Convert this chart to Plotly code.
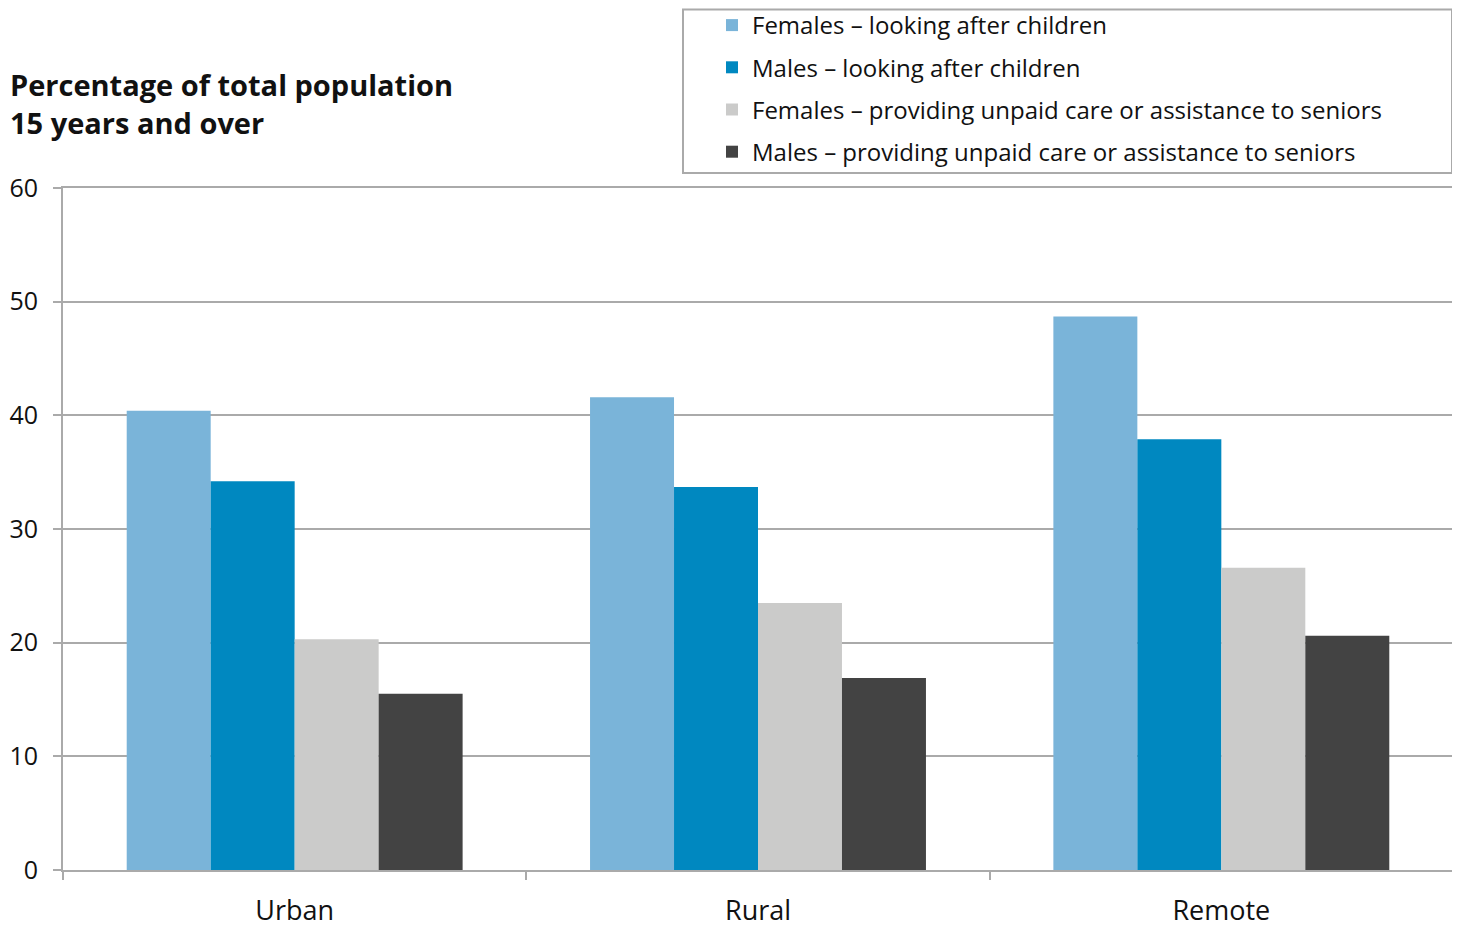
import plotly.graph_objects as go

categories = ["Urban", "Rural", "Remote"]
series_names = [
    "Females – looking after children",
    "Males – looking after children",
    "Females – providing unpaid care or assistance to seniors",
    "Males – providing unpaid care or assistance to seniors",
]
f_children = [40.4, 41.6, 48.7]
m_children = [34.2, 33.7, 37.9]
f_seniors = [20.3, 23.5, 26.6]
m_seniors = [15.5, 16.9, 20.6]
y_ticks = [0, 10, 20, 30, 40, 50, 60]

colors = ["#7ab4d9", "#0088c0", "#cbcbca", "#434343"]
values = [f_children, m_children, f_seniors, m_seniors]

FONT = "Open Sans"
OFF = 8  # page body margin
W, H = 1460 - OFF, 930 - OFF
# target plot area in page pixels
PL, PR, PT, PB = 63, 1453, 188, 870
L, T = PL - OFF, PT - OFF
R, B = W - (PR - OFF), H - (PB - OFF)
PW, PH = PR - PL, PB - PT


def px_x(p):
    return (p - PL) / PW


def px_y(p):
    return 1 + (PT - p) / PH


fig = go.Figure()
for i, (name, vals) in enumerate(zip(series_names, values)):
    fig.add_trace(go.Bar(
        x=categories, y=vals, name=name,
        marker=dict(color=colors[i], line=dict(width=0)),
        legendgroup=f"g{i}",
    ))

fig.update_layout(
    width=W, height=H,
    margin=dict(l=L, r=R, t=T, b=B, autoexpand=False),
    paper_bgcolor="white", plot_bgcolor="white",
    barmode="group", bargap=0.275, bargroupgap=0,
    font=dict(family=FONT, color="#111111", size=24),
    showlegend=True,
    legend=dict(
        x=px_x(712), xanchor="left", xref="paper",
        y=px_y(3), yanchor="top", yref="paper",
        borderwidth=0,
        font=dict(family=FONT, size=24, color="#111111"),
        tracegroupgap=8,
        bgcolor="rgba(0,0,0,0)",
    ),
    xaxis=dict(
        showline=True, linecolor="#aaaaaa", linewidth=2, mirror=True,
        ticks="outside", tickson="boundaries", ticklen=8, tickcolor="#aaaaaa", tickwidth=2,
        tickfont=dict(family=FONT, size=27, color="#111111"),
        ticklabelstandoff=16,
        showgrid=False, automargin=False,
    ),
    yaxis=dict(
        range=[0, 60], tickvals=y_ticks,
        showline=True, linecolor="#aaaaaa", linewidth=2, mirror=True,
        ticks="outside", ticklen=8, tickcolor="#aaaaaa", tickwidth=2,
        showgrid=True, gridcolor="#aaaaaa", gridwidth=2,
        tickfont=dict(family=FONT, size=25, color="#111111"),
        ticklabelstandoff=10,
        zeroline=False, automargin=False,
    ),
    shapes=[
        dict(
            type="rect", xref="paper", yref="paper",
            x0=px_x(683), x1=px_x(1452), y0=px_y(173), y1=px_y(9.5),
            line=dict(color="#aaaaaa", width=2), fillcolor="rgba(0,0,0,0)",
            layer="below",
        )
    ],
    annotations=[
        dict(
            text="<b>Percentage of total population<br>15 years and over</b>",
            xref="paper", yref="paper", x=px_x(8), y=px_y(103),
            xanchor="left", yanchor="middle", align="left",
            showarrow=False,
            font=dict(family=FONT, size=29, color="#111111"),
        )
    ],
)

fig.write_html("out.html")
